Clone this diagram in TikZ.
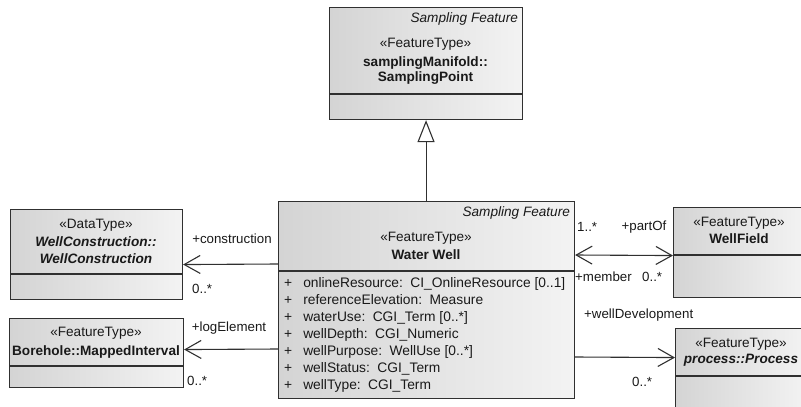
\documentclass[tikz,border=0pt]{standalone}
\usepackage{fontspec}
\setmainfont{Liberation Sans}
\usetikzlibrary{arrows.meta,positioning,calc}
\usepackage{xcolor}
\definecolor{umlline}{RGB}{48,48,48}
\definecolor{umlfilla}{RGB}{212,212,212}
\definecolor{umlfillb}{RGB}{243,243,243}
\definecolor{umltext}{RGB}{25,25,25}
\tikzset{
    umlclass/.style 2 args={
        draw=umlline,line width=1.1pt,left color=umlfilla,right color=umlfillb,
        anchor=north west,minimum width=#1,minimum height=#2,inner sep=0pt
    },
    umldiv/.style={draw=umlline,line width=1.1pt},
    stereo/.style={font=\fontsize{13.6}{15}\selectfont,text=umltext,inner sep=0pt},
    clsname/.style={font=\fontsize{13.6}{15}\selectfont\bfseries,text=umltext,inner sep=0pt},
    absname/.style={font=\fontsize{13.6}{15}\selectfont\bfseries\itshape,text=umltext,inner sep=0pt},
    tagged/.style={font=\fontsize{13.6}{15}\selectfont\itshape,text=umltext,inner sep=0pt,anchor=north east},
    role/.style={font=\fontsize{13.3}{15}\selectfont,text=umltext,inner sep=0pt},
    assoc/.style={
        draw=umlline,line width=1.1pt,
        -{Straight Barb[length=16pt,width=18pt,line width=1.1pt]}
    },
    general/.style={
        draw=umlline,line width=1.1pt,
        -{Triangle[open,length=22pt,width=17pt,line width=1.1pt,fill=white]}
    }
}

\begin{document}
\begin{tikzpicture}[x=1pt,y=-1pt]

\clip (0,0) rectangle (801,407);

% parent class
\node[umlclass={193pt}{112pt}] (sampPt) at (329,7) {};
\draw[umldiv] ([yshift=-87pt]sampPt.north west) -- ([yshift=-87pt]sampPt.north east);
\node[tagged] (sampPtTag) at ([xshift=-5pt,yshift=-5pt]sampPt.north east) {Sampling Feature};
\node[stereo] (sampPtSt) at (425.5,44) {«FeatureType»};
\node[clsname,align=center] (sampPtNm) at (425.5,70.5)
{samplingManifold::\\[0pt]SamplingPoint};

% main class
\node[umlclass={296pt}{197pt}] (well) at (278,201) {};
\draw[umldiv] ([yshift=-70pt]well.north west) -- ([yshift=-70pt]well.north east);
\node[tagged] (wellTag) at ([xshift=-5pt,yshift=-5pt]well.north east) {Sampling Feature};
\node[stereo] (wellSt) at (426,238) {«FeatureType»};
\node[clsname] (wellNm) at (426,255) {Water Well};
\node[anchor=north west,inner sep=0pt,text=umltext,font=\fontsize{13.8}{17}\selectfont]
(wellAttr) at (284,275)
{\begin{tabular}{@{}c@{\hspace{11pt}}l@{}}
+ & onlineResource:\, CI\_OnlineResource [0..1]\\
+ & referenceElevation:\, Measure\\
+ & waterUse:\, CGI\_Term [0..*]\\
+ & wellDepth:\, CGI\_Numeric\\
+ & wellPurpose:\, WellUse [0..*]\\
+ & wellStatus:\, CGI\_Term\\
+ & wellType:\, CGI\_Term
\end{tabular}};

% left classes
\node[umlclass={172pt}{90pt}] (constr) at (10,209) {};
\draw[umldiv] ([yshift=-65pt]constr.north west) -- ([yshift=-65pt]constr.north east);
\node[stereo] (constrSt) at (96,225) {«DataType»};
\node[absname,align=center] (constrNm) at (96,250.5)
{WellConstruction::\\[2pt]WellConstruction};

\node[umlclass={174pt}{69pt}] (bore) at (9,318) {};
\draw[umldiv] ([yshift=-48pt]bore.north west) -- ([yshift=-48pt]bore.north east);
\node[stereo] (boreSt) at (96,333) {«FeatureType»};
\node[clsname] (boreNm) at (96,352) {Borehole::MappedInterval};

% right classes
\node[umlclass={132pt}{90pt}] (field) at (673,207) {};
\draw[umldiv] ([yshift=-48pt]field.north west) -- ([yshift=-48pt]field.north east);
\node[stereo] (fieldSt) at (739,223) {«FeatureType»};
\node[clsname] (fieldNm) at (739,239) {WellField};

\node[umlclass={132pt}{102pt}] (proc) at (675,328) {};
\draw[umldiv] ([yshift=-48pt]proc.north west) -- ([yshift=-48pt]proc.north east);
\node[stereo] (procSt) at (741,344) {«FeatureType»};
\node[absname] (procNm) at (741,360) {process::Process};

% connectors
\draw[general] (well.north -| sampPt.south) -- (sampPt.south);

\draw[assoc] ([yshift=-63pt]well.north west) -- ([yshift=-10pt]constr.east);
\node[role] (constrRole) at (232,239) {+construction};
\node[role,anchor=west] (constrMul) at (192,289) {0..*};

\draw[assoc] ([yshift=-148pt]well.north west) -- ([yshift=3.5pt]bore.east);
\node[role] (boreRole) at (229,328) {+logElement};
\node[role,anchor=west] (boreMul) at (187,381) {0..*};

\draw[assoc,{Straight Barb[length=16pt,width=18pt,line width=1.1pt]}-{Straight Barb[length=16pt,width=18pt,line width=1.1pt]}]
([yshift=-54pt]well.north east) -- ([yshift=-3pt]field.west);
\node[role,anchor=west] (fieldMulA) at (577,227) {1..*};
\node[role] (fieldRole) at (644,227) {+partOf};
\node[role,anchor=west] (wellRole) at (575,277) {+member};
\node[role,anchor=west] (fieldMulB) at (642,277) {0..*};

\draw[assoc] ([yshift=-156pt]well.north east) -- ([yshift=22pt]proc.west);
\node[role,anchor=west] (procRole) at (584,315) {+wellDevelopment};
\node[role,anchor=west] (procMul) at (632,382) {0..*};

\end{tikzpicture}
\end{document}
